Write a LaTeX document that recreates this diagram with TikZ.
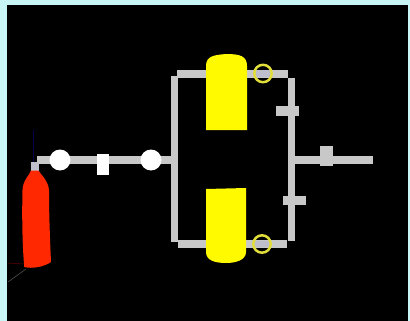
\documentclass[tikz,border=0pt]{standalone}
\definecolor{bgc}{RGB}{200,246,246}
\definecolor{pipe}{RGB}{200,200,200}
\definecolor{pipeb}{RGB}{190,190,205}
\definecolor{tank}{RGB}{255,250,0}
\definecolor{redc}{RGB}{255,40,0}
\definecolor{gaugec}{RGB}{225,222,60}
\tikzset{
  pipeline/.style={draw=pipe,line width=7.2pt},
  pipefill/.style={fill=pipe,draw=none},
  tankshape/.style={fill=tank,draw=none},
  gauge/.style={draw=gaugec,line width=2.5pt,fill=none},
  whitevalve/.style={fill=white,draw=none},
}
\begin{document}
\begin{tikzpicture}[x=1pt,y=-1pt]
\useasboundingbox (0,0) rectangle (410,321);
\fill[bgc] (0,0) rectangle (410,321);
\fill[black] (7,5) rectangle (408,321);
% faint lines at the cylinder foot
\draw[white!35!black,line width=0.5pt] (8,282) -- (26,269);
\draw[red!40!black,line width=0.5pt] (8,263) -- (23,264);
\draw[blue!30!black,line width=0.6pt] (33,130) -- (33,162);
% pipes
\draw[pipeline] (37,160) -- (172,160);
\fill[pipeb] (31,162) rectangle (38.5,172);
\draw[pipeline] (174.5,76) -- (174.5,241.5);
\draw[pipeline] (177,74) -- (288,74);
\draw[pipeline] (291.5,78) -- (291.5,240.5);
\draw[pipeline] (178,244) -- (287,244);
\draw[pipeline] (292,160) -- (373,160);
% cylinder
\fill[redc] (24,264)
  .. controls (22,240) and (22,210) .. (22.5,190)
  .. controls (23,180) and (29,176) .. (31,170.5)
  -- (38.5,170.5)
  .. controls (41,175) and (48,180) .. (49,190)
  .. controls (49,215) and (50,240) .. (51,262)
  .. controls (44,267) and (32,269) .. (24,267) -- cycle;
% round valves and block on the inlet line
\fill[whitevalve] (60,160) circle (10.5);
\fill[whitevalve] (151,160) circle (10.5);
\fill[whitevalve] (97,154) rectangle (109,175);
% tanks
\fill[tankshape] (206,130) -- (206,66) .. controls (206,56) and (214,55) .. (226,54) .. controls (240,54) and (247,56) .. (247,66) -- (247,130) -- cycle;
\fill[tankshape] (206,189) -- (246,188) -- (246,252) .. controls (246,260) and (236,263) .. (226,263) .. controls (214,263) and (206,260) .. (206,252) -- cycle;
% gauges
\fill[pipeb] (256,70.5) rectangle (272,77.5);
\fill[pipeb] (255,241) rectangle (271,247);
\draw[gauge] (263,73.5) circle (8.7);
\draw[gauge] (262,244) circle (8.7);
% fittings
\fill[pipefill] (276,106) rectangle (299,116);
\fill[pipefill] (283,196) rectangle (306,205);
\fill[pipefill] (320,146) rectangle (333,166);
\end{tikzpicture}
\end{document}
